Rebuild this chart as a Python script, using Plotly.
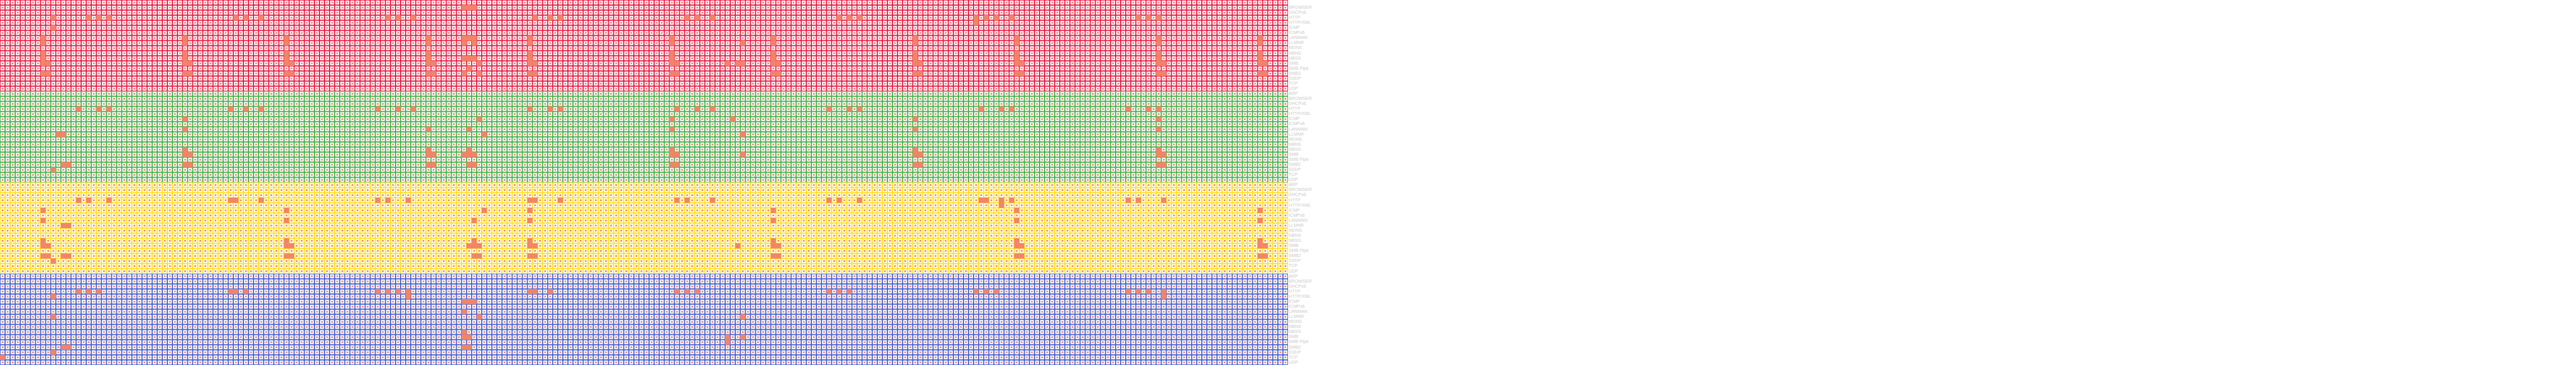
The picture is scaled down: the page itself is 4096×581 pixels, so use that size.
import plotly.graph_objects as go

PROTOCOLS = ["ARP", "BROWSER", "DHCPv6", "HTTP", "HTTP/XML", "ICMP", "ICMPv6", "LANMAN",
             "LLMNR", "MDNS", "NBNS", "NBSS", "SMB", "SMB Pipe", "SMB2", "SSDP", "TCP", "UDP"]
N_COLUMNS = 254

# Highlighted time slots per protocol, one table per host group
RED_HITS = {
    "BROWSER": [91, 92, 93],
    "HTTP": [10, 17, 19, 21, 46, 48, 51, 76, 78, 81, 105, 108, 110, 135, 137, 140, 165, 167, 169, 192, 194, 196, 199, 224, 226, 228],
    "HTTP/XML": [192],
    "ICMP": [10],
    "LANMAN": [8, 36, 56, 84, 91, 92, 93, 104, 132, 152, 180, 200, 228, 248],
    "LLMNR": [8, 36, 56, 84, 91, 93, 104, 132, 146, 152, 180, 200, 228, 248],
    "NBNS": [8, 36, 56, 84, 104, 132, 152, 180, 200, 228, 248],
    "NBSS": [8, 36, 56, 84, 91, 92, 93, 104, 132, 152, 180, 200, 228, 248],
    "SMB": [8, 9, 36, 37, 56, 57, 84, 85, 94, 104, 105, 132, 133, 143, 145, 146, 152, 153, 180, 181, 200, 201, 228, 229, 248, 249],
    "SMB Pipe": [92],
    "SMB2": [8, 9, 36, 37, 56, 57, 84, 85, 91, 94, 104, 105, 132, 133, 152, 153, 180, 181, 200, 201, 228, 229, 248, 249],
}
GREEN_HITS = {
    "HTTP": [15, 19, 21, 45, 48, 51, 74, 78, 81, 104, 108, 110, 133, 137, 140, 163, 167, 169, 193, 197, 199, 222, 226, 228],
    "ICMP": [36, 94, 132, 144, 180, 228],
    "LANMAN": [36, 84, 92, 132, 180, 228],
    "LLMNR": [11, 12, 95, 146],
    "NBSS": [36, 84, 92, 132, 180, 228],
    "SMB": [36, 37, 84, 85, 91, 92, 93, 132, 133, 146, 180, 181, 228, 229],
    "SMB2": [12, 13, 36, 37, 84, 85, 92, 93, 132, 133, 180, 181, 228, 229],
    "SSDP": [10],
}
YELLOW_HITS = {
    "HTTP": [15, 17, 21, 45, 46, 51, 74, 76, 80, 104, 105, 110, 133, 135, 140, 163, 165, 169, 193, 194, 197, 199, 222, 224, 229],
    "HTTP/XML": [197],
    "ICMP": [8, 56, 95, 104, 152, 200, 248],
    "LANMAN": [8, 56, 93, 104, 152, 200, 248],
    "LLMNR": [12, 13],
    "NBSS": [8, 56, 93, 104, 152, 200, 248],
    "SMB": [8, 9, 56, 57, 92, 93, 94, 104, 105, 145, 152, 153, 200, 201, 248, 249],
    "SMB2": [8, 9, 12, 13, 56, 57, 93, 94, 104, 105, 152, 153, 200, 201, 248, 249],
    "SSDP": [10],
}
BLUE_HITS = {
    "HTTP": [15, 17, 19, 45, 46, 48, 74, 76, 78, 80, 104, 105, 108, 133, 135, 137, 163, 165, 167, 192, 194, 196, 222, 224, 226, 229],
    "HTTP/XML": [10, 80, 229],
    "ICMP": [91, 92, 93],
    "LANMAN": [91],
    "LLMNR": [10, 94, 146],
    "NBSS": [91],
    "SMB": [91, 92, 143, 146],
    "SMB Pipe": [143],
    "SMB2": [12, 13, 91, 92],
    "SSDP": [10],
    "TCP": [0],
}
GROUPS = [("#E6194B", RED_HITS), ("#3CB44B", GREEN_HITS), ("#FFE119", YELLOW_HITS), ("#4363D8", BLUE_HITS)]
HIT_COLOR = "#F38467"
LABEL_COLOR = "#CCCCCC"

W, H = 4096, 581
SCALE = 0.895
n_rows = len(PROTOCOLS) * len(GROUPS)
pitch = (W * 0.5) / N_COLUMNS
inner = 7 * SCALE
center = 3 * SCALE
label_lift = 0.09  # rows: labels sit slightly above the cell centre

fig = go.Figure()
grid_x, grid_y, hit_x, hit_y, tickvals, ticktext, bands = [], [], [], [], [], [], []
for g, (color, hits) in enumerate(GROUPS):
    first = g * len(PROTOCOLS)
    bands.append(dict(type="rect", layer="below", line=dict(width=0), fillcolor=color,
                      xref="x", yref="y", x0=-0.5, x1=N_COLUMNS - 0.5,
                      y0=first - 0.5, y1=first + len(PROTOCOLS) - 0.5))
    for p, proto in enumerate(PROTOCOLS):
        row = first + p
        tickvals.append(row - label_lift)
        ticktext.append(proto)
        for c in range(N_COLUMNS):
            grid_x.append(c)
            grid_y.append(row)
        for c in hits.get(proto, []):
            hit_x.append(c)
            hit_y.append(row)

fig.add_trace(go.Scatter(
    x=grid_x, y=grid_y, mode="markers", hoverinfo="skip", showlegend=False,
    marker=dict(symbol="square", size=inner, color="#FFFFFF", line=dict(width=0))))
fig.add_trace(go.Scatter(
    x=grid_x, y=grid_y, mode="markers", hoverinfo="skip", showlegend=False,
    marker=dict(symbol="square", size=center, color=HIT_COLOR, line=dict(width=0))))
fig.add_trace(go.Scatter(
    x=hit_x, y=hit_y, mode="markers", hoverinfo="skip", showlegend=False,
    marker=dict(symbol="square", size=pitch + 0.3, color=HIT_COLOR, line=dict(width=0))))

fig.update_layout(
    width=W, height=H, margin=dict(l=0, r=0, t=0, b=0), autosize=False,
    paper_bgcolor="#FFFFFF", plot_bgcolor="#FFFFFF", showlegend=False, shapes=bands,
    xaxis=dict(domain=[0, 0.5], range=[-0.5, N_COLUMNS - 0.5], visible=False),
    yaxis=dict(range=[n_rows - 0.5, -0.5], side="right", tickmode="array", tickvals=tickvals,
               ticktext=ticktext, showgrid=False, zeroline=False, showline=False, ticks="",
               automargin=False,
               tickfont=dict(family="Liberation Sans, Arial, sans-serif", size=7.16, color=LABEL_COLOR)),
)
fig.write_html("out.html", config={"displayModeBar": False, "staticPlot": True},
               post_script="document.body.style.margin='0';document.documentElement.style.overflow='hidden';")
